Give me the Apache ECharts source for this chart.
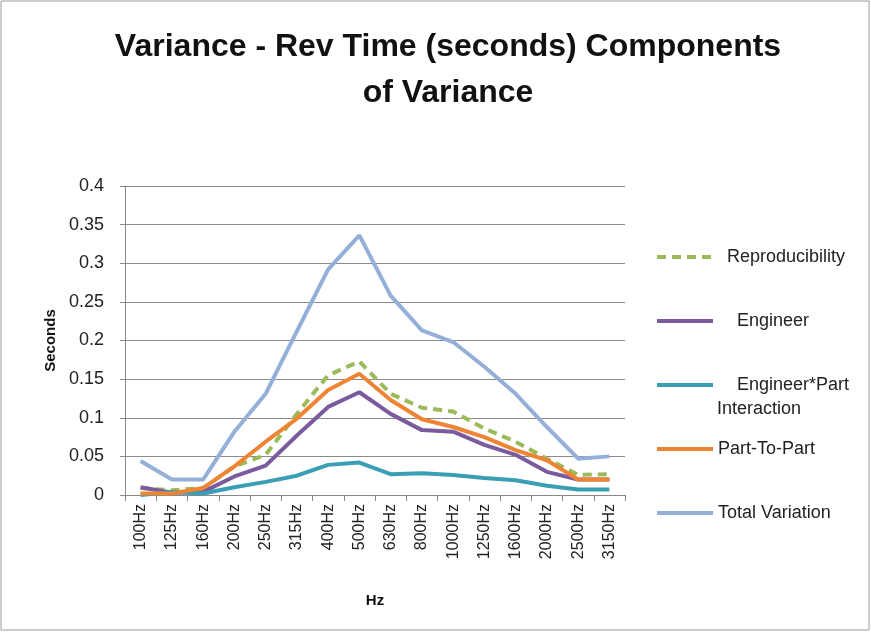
<!DOCTYPE html>
<html>
<head>
<meta charset="utf-8">
<script src="https://cdn.jsdelivr.net/npm/echarts@6/dist/echarts.min.js"></script>
<style>
  html, body { margin: 0; padding: 0; background: #fff; }
  #chart { width: 871px; height: 632px; }
</style>
</head>
<body>
<div id="chart"></div>
<script>
const bands = ['100Hz', '125Hz', '160Hz', '200Hz', '250Hz', '315Hz', '400Hz', '500Hz',
  '630Hz', '800Hz', '1000Hz', '1250Hz', '1600Hz', '2000Hz', '2500Hz', '3150Hz']

const reproducibility = [0.009, 0.006, 0.009, 0.037, 0.052, 0.105, 0.155, 0.173,
  0.131, 0.113, 0.108, 0.086, 0.069, 0.047, 0.026, 0.027]
const engineer = [0.010, 0.003, 0.004, 0.024, 0.038, 0.077, 0.114, 0.133,
  0.105, 0.084, 0.082, 0.065, 0.052, 0.030, 0.020, 0.020]
const interaction = [0.000, 0.004, 0.002, 0.010, 0.017, 0.025, 0.039, 0.042,
  0.027, 0.028, 0.026, 0.022, 0.019, 0.012, 0.007, 0.007]
const partToPart = [0.002, 0.002, 0.009, 0.037, 0.069, 0.099, 0.136, 0.157,
  0.123, 0.098, 0.088, 0.075, 0.058, 0.045, 0.020, 0.020]
const totalVariation = [0.044, 0.020, 0.020, 0.082, 0.131, 0.212, 0.292, 0.336,
  0.258, 0.213, 0.198, 0.166, 0.131, 0.088, 0.047, 0.050]

const font = 'Liberation Sans'
const chart = echarts.init(document.getElementById('chart'))

const line = (name, data, color, dashed) => ({
  name,
  type: 'line',
  data,
  symbol: 'none',
  lineStyle: { color, width: 4, type: dashed ? [9, 6] : 'solid' },
  itemStyle: { color },
})

// one legend block per entry so the odd Excel spacing can be kept
const legendAt = (name, center, indent) => ({
  orient: 'vertical',
  left: 655,
  top: center - 8,
  padding: 0,
  data: [name],
  itemWidth: 56,
  itemHeight: 22,
  itemStyle: { opacity: 0 },
  lineStyle: { width: 4 },
  textStyle: { fontFamily: font, fontSize: 18, color: '#222', padding: [0, 0, 0, indent] },
})

chart.setOption({
  animation: false,
  title: {
    text: 'Variance - Rev Time (seconds) Components\nof Variance',
    left: 443,
    textAlign: 'center',
    top: 19,
    textStyle: {
      fontFamily: font,
      fontSize: 32,
      fontWeight: 'bold',
      color: '#111',
      lineHeight: 46,
    },
  },
  legend: [
    legendAt('Reproducibility', 256, 9),
    legendAt('Engineer', 320, 19),
    legendAt('Engineer*Part', 384, 19),
    legendAt('Part-To-Part', 448, 0),
    legendAt('Total Variation', 512, 0),
  ],
  graphic: [
    {
      type: 'rect',
      shape: { x: 1, y: 1, width: 868, height: 629 },
      style: { fill: 'none', stroke: '#9a9a9a', lineWidth: 1 },
      silent: true,
    },
    {
      type: 'text',
      left: 717,
      top: 400,
      style: { text: 'Interaction', font: '18px "Liberation Sans"', fill: '#222' },
    },
  ],
  grid: { left: 125, right: 246, top: 186, bottom: 137 },
  xAxis: {
    type: 'category',
    data: bands,
    boundaryGap: true,
    name: 'Hz',
    nameLocation: 'middle',
    nameGap: 98,
    nameTextStyle: { fontFamily: font, fontSize: 15, fontWeight: 'bold', color: '#111' },
    axisLine: { lineStyle: { color: '#888', width: 1 } },
    axisTick: { show: true, alignWithLabel: false, length: 6, lineStyle: { color: '#888' } },
    axisLabel: {
      rotate: 90,
      margin: 9,
      fontFamily: font,
      fontSize: 16,
      color: '#222',
      interval: 0,
    },
  },
  yAxis: {
    type: 'value',
    min: 0,
    max: 0.4,
    interval: 0.05,
    name: 'Seconds',
    nameLocation: 'middle',
    nameGap: 67,
    nameRotate: 90,
    nameTextStyle: { fontFamily: font, fontSize: 15, fontWeight: 'bold', color: '#111' },
    axisLine: { show: true, lineStyle: { color: '#888', width: 1 } },
    axisTick: { show: true, length: 5, lineStyle: { color: '#888' } },
    axisLabel: { fontFamily: font, fontSize: 18, color: '#222', margin: 21 },
    splitLine: { lineStyle: { color: '#8a8a8a', width: 1 } },
  },
  series: [
    line('Reproducibility', reproducibility, '#9BBB59', true),
    line('Engineer', engineer, '#7A5C9E', false),
    line('Engineer*Part', interaction, '#3A9EB5', false),
    line('Part-To-Part', partToPart, '#EE8534', false),
    line('Total Variation', totalVariation, '#95B0D8', false),
  ],
})
</script>
</body>
</html>
